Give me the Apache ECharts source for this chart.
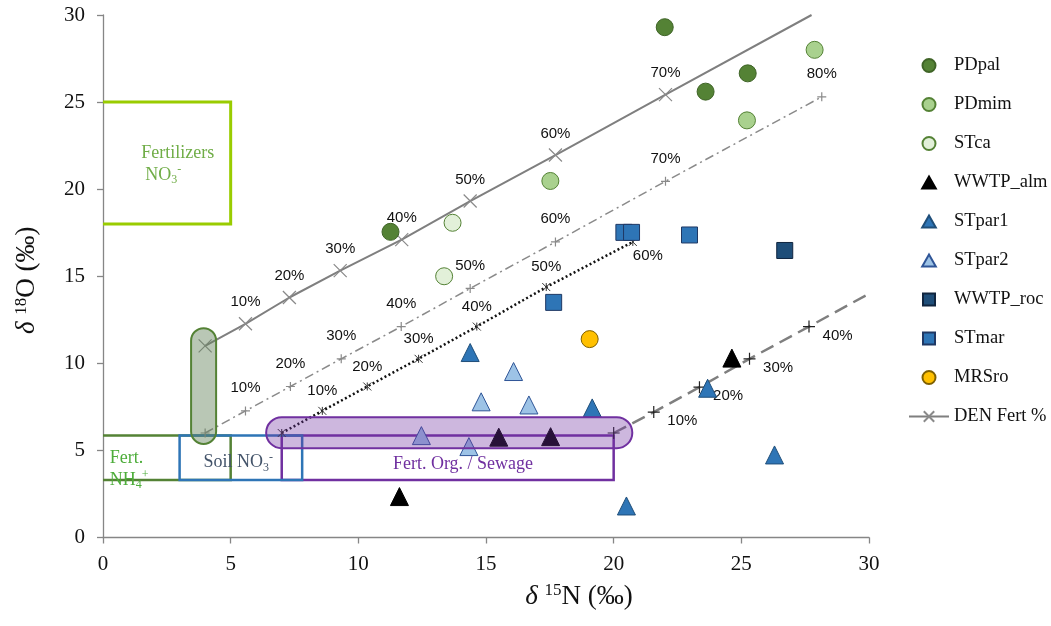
<!DOCTYPE html>
<html><head><meta charset="utf-8">
<script src="https://cdn.jsdelivr.net/npm/echarts@6/dist/echarts.min.js"></script>
<style>html,body{margin:0;padding:0;background:#fff}#c{width:1051px;height:626px}</style>
</head><body><div id="c"></div>
<script>
// ---------- data ----------
const axisTicks = [0, 5, 10, 15, 20, 25, 30];

const PDpal    = [[22.0, 29.3], [25.25, 26.65], [23.6, 25.6], [11.26, 17.55]];
const PDmim    = [[27.87, 28.0], [25.22, 23.95], [17.52, 20.47]];
const STca     = [[13.69, 18.07], [13.36, 15.0]];
const WWTP_alm = [[11.61, 2.35], [15.5, 5.76], [17.53, 5.79], [24.63, 10.3]];
const STpar1   = [[14.38, 10.62], [19.16, 7.44], [23.68, 8.57], [26.3, 4.74], [20.5, 1.81]];
const STpar2   = [[16.08, 9.53], [14.81, 7.79], [16.68, 7.61], [12.47, 5.85], [14.33, 5.22]];
const WWTP_roc = [[26.7, 16.48]];
const STmar    = [[20.4, 17.52], [20.7, 17.52], [22.97, 17.37], [17.65, 13.5]];
const MRSro    = [[19.06, 11.39]];

// denitrification lines (null = line end without marker)
const den1    = [[4.0, 11.0], [5.58, 12.27], [7.3, 13.78], [9.29, 15.32], [11.7, 17.1], [14.38, 19.32], [17.72, 21.96], [22.03, 25.43], [27.75, 30.0]];
const den1Pct = ['', '10%', '20%', '30%', '40%', '50%', '60%', '70%', null];
const den2    = [[4.0, 6.0], [5.58, 7.27], [7.34, 8.67], [9.33, 10.26], [11.68, 12.11], [14.38, 14.3], [17.72, 16.97], [22.03, 20.45], [28.15, 25.3]];
const den2Pct = ['', '10%', '20%', '30%', '40%', '50%', '60%', '70%', '80%'];
const den3    = [[7.0, 6.0], [8.59, 7.27], [10.35, 8.67], [12.36, 10.26], [14.64, 12.11], [17.36, 14.38], [20.75, 16.97]];
const den3Pct = ['', '10%', '20%', '30%', '40%', '50%', '60%'];
const den4    = [[20.0, 6.0], [21.57, 7.2], [23.36, 8.63], [25.32, 10.26], [27.65, 12.11], [30.0, 14.0]];
const den4Pct = ['', '10%', '20%', '30%', '40%', null];

// source zones (delta15N, delta18O)
const zoneFertNO3 = [[0, 25], [5, 25], [5, 18], [0, 18]];
const zoneFertNH4 = [[0, 5.85], [5, 5.85], [5, 3.3], [0, 3.3]];
const zoneSoilNO3 = [3, 3.3, 7.8, 5.85];
const zoneFertOrg = [7, 3.3, 20, 5.85];
const pillGreen   = [3.45, 5.37, 4.43, 12.02];
const pillPurple  = [6.39, 5.13, 20.73, 6.91];

const legendNames = ['PDpal', 'PDmim', 'STca', 'WWTP_alm', 'STpar1', 'STpar2', 'WWTP_roc', 'STmar', 'MRSro', 'DEN Fert %'];

// ---------- chart ----------
const serif = '"Liberation Serif", "Times New Roman", serif';
const sans = '"Liberation Sans", Arial, sans-serif';
const chart = echarts.init(document.getElementById('c'));

const X_SYM = 'path://M0,0L10,10M10,0L0,10';
const P_SYM = 'path://M5,0L5,10M0,5L10,5';
const S_SYM = 'path://M0,0L10,10M10,0L0,10M5,0L5,10';
// legend icons padded to the 40x13 legend box so they are not stretched
const LEG_TRI = 'path://M0,0M40,13M13.2,12.4L20,0.6L26.8,12.4Z';
const LEG_SQ = 'path://M0,0M40,13M14,0.6H26V12.6H14Z';
const legendIcon = { WWTP_alm: LEG_TRI, STpar1: LEG_TRI, STpar2: LEG_TRI, WWTP_roc: LEG_SQ, STmar: LEG_SQ };

function sc(name, data, symbol, color, border, size) {
  return {
    type: 'scatter', name, data, symbol, symbolSize: size, symbolKeepAspect: true,
    itemStyle: { color, borderColor: border, borderWidth: 1, opacity: 1 },
    z: 4, animation: false
  };
}

function den(name, pts, pcts, o) {
  return {
    type: 'line', name, z: 3, animation: false,
    symbol: o.symbol, symbolSize: o.size, showAllSymbol: true,
    lineStyle: o.line,
    itemStyle: { color: o.mark, borderColor: o.mark, borderWidth: o.markW },
    label: Object.assign({ show: true, fontFamily: sans, fontSize: 15, color: '#111' }, o.label),
    emphasis: { disabled: true },
    data: pts.map((p, i) => {
      const item = { value: p };
      if (pcts[i] === null) { item.symbol = 'none'; item.label = { show: false }; }
      else if (!pcts[i]) { item.label = { show: false }; }
      else {
        item.label = { formatter: pcts[i] };
        if (o.itemLabel) Object.assign(item.label, o.itemLabel(i, pcts.length));
      }
      return item;
    })
  };
}

function boxRect(api, b) {
  const p0 = api.coord([b[0], b[3]]), p1 = api.coord([b[2], b[1]]);
  return { x: p0[0], y: p0[1], width: p1[0] - p0[0], height: p1[1] - p0[1] };
}

function zonesRender(params, api) {
  const t = (txt, at, fill, align, rich) => {
    const p = api.coord(at);
    return { type: 'text', x: p[0], y: p[1], style: {
      text: txt, fill, align: align || 'left', verticalAlign: 'middle',
      fontFamily: serif, fontSize: 18, lineHeight: 22, rich: rich || {} } };
  };
  const sub = { sub: { fontFamily: serif, fontSize: 12, lineHeight: 12, verticalAlign: 'bottom' },
                sup: { fontFamily: serif, fontSize: 12, lineHeight: 12, verticalAlign: 'top' } };
  const addSub = (r, col) => ({ sub: Object.assign({ fill: col }, r.sub), sup: Object.assign({ fill: col }, r.sup) });
  return {
    type: 'group',
    children: [
      { type: 'polyline', shape: { points: zoneFertNO3.map(p => api.coord(p)) }, style: { stroke: '#99CC00', lineWidth: 3, fill: null } },
      { type: 'polyline', shape: { points: zoneFertNH4.map(p => api.coord(p)) }, style: { stroke: '#548235', lineWidth: 2.5, fill: null } },
      { type: 'rect', shape: boxRect(api, zoneFertOrg), style: { stroke: '#7030A0', lineWidth: 2.5, fill: null } },
      { type: 'rect', shape: boxRect(api, zoneSoilNO3), style: { stroke: '#2E75B6', lineWidth: 2.5, fill: null } },
      t('Fertilizers', [1.5, 22.05], '#70AD47'),
      t('NO{sub|3}{sup|-}', [1.65, 20.8], '#70AD47', 'left', addSub(sub, '#70AD47')),
      t('Fert.', [0.26, 4.55], '#4EAD3B'),
      t('NH{sub|4}{sup|+}', [0.26, 3.3], '#4EAD3B', 'left', addSub(sub, '#4EAD3B')),
      t('Soil NO{sub|3}{sup|-}', [3.94, 4.3], '#44546A', 'left', addSub(sub, '#44546A')),
      t('Fert. Org. / Sewage', [14.1, 4.2], '#7030A0', 'center')
    ]
  };
}

function pillsRender(params, api) {
  const g = boxRect(api, pillGreen), p = boxRect(api, pillPurple);
  g.r = Math.min(g.width, g.height) / 2;
  p.r = Math.min(p.width, p.height) / 2;
  return {
    type: 'group',
    children: [
      { type: 'rect', shape: g, style: { fill: 'rgba(100,130,90,0.45)', stroke: '#548235', lineWidth: 2 } },
      { type: 'rect', shape: p, style: { fill: 'rgba(112,48,160,0.35)', stroke: '#7030A0', lineWidth: 2 } }
    ]
  };
}

const axisCommon = {
  type: 'value', min: axisTicks[0], max: axisTicks[axisTicks.length - 1], interval: axisTicks[1] - axisTicks[0],
  splitLine: { show: false },
  axisLine: { show: true, lineStyle: { color: '#868686', width: 1.3 } },
  axisTick: { show: true, length: 6, lineStyle: { color: '#868686', width: 1.3 } },
  axisLabel: { fontFamily: serif, fontSize: 21, color: '#111' },
  nameLocation: 'middle'
};
const nameRich = {
  d: { fontFamily: serif, fontSize: 27, fontStyle: 'italic', color: '#111', lineHeight: 28 },
  s: { fontFamily: serif, fontSize: 17, color: '#111', lineHeight: 17, verticalAlign: 'top' }
};

chart.setOption({
  backgroundColor: '#fff',
  animation: false,
  grid: { left: 103, right: 182, top: 15, bottom: 88.5, containLabel: false },
  xAxis: Object.assign({}, axisCommon, {
    axisLabel: Object.assign({}, axisCommon.axisLabel, { margin: 16 }),
    name: '{d|δ} {s|15}N (‰)', nameGap: 45,
    nameTextStyle: { fontFamily: serif, fontSize: 27, color: '#111', lineHeight: 28, padding: [0, 0, 0, 186], rich: nameRich }
  }),
  yAxis: Object.assign({}, axisCommon, {
    axisLabel: Object.assign({}, axisCommon.axisLabel, { margin: 18 }),
    name: '{d|δ} {s|18}O (‰)', nameGap: 62,
    nameTextStyle: { fontFamily: serif, fontSize: 27, color: '#111', lineHeight: 28, padding: [0, 8, 0, 0], rich: nameRich }
  }),
  legend: {
    data: legendNames.map(n => legendIcon[n] ? { name: n, icon: legendIcon[n] } : n),
    orient: 'vertical', left: 903, top: 51,
    itemWidth: 40, itemHeight: 13, itemGap: 20, symbolKeepAspect: true,
    textStyle: { fontFamily: serif, fontSize: 18.5, color: '#111' },
    selectedMode: false
  },
  series: [
    { type: 'custom', name: 'zones', coordinateSystem: 'cartesian2d', renderItem: zonesRender,
      data: [[0, 0]], z: 1, silent: true, clip: false, animation: false },
    den('DEN Fert %', den1, den1Pct, { symbol: X_SYM, size: 13, mark: '#8a8a8a', markW: 1.2,
      line: { color: '#7f7f7f', width: 2, type: 'solid' },
      label: { position: 'top', distance: 7 } }),
    den('den2', den2, den2Pct, { symbol: P_SYM, size: 9, mark: '#8a8a8a', markW: 1.2,
      line: { color: '#8a8a8a', width: 1.5, type: [9, 4, 2, 4] },
      label: { position: 'top', distance: 10 } }),
    den('den3', den3, den3Pct, { symbol: S_SYM, size: 8, mark: '#333', markW: 1,
      line: { color: '#111', width: 2.5, type: [2, 2.5] },
      label: { position: 'top', distance: 8 },
      itemLabel: (i, n) => i === n - 1 ? { position: 'bottom', distance: 4, offset: [15, -2] } : {} }),
    den('den4', den4, den4Pct, { symbol: P_SYM, size: 12, mark: '#222', markW: 1.2,
      line: { color: '#7f7f7f', width: 2.5, type: [14, 7] },
      label: { position: 'right', distance: 7, offset: [0, 9] } }),
    sc('PDpal', PDpal, 'circle', '#548235', '#3f6427', 17),
    sc('PDmim', PDmim, 'circle', '#A9D18E', '#548235', 17),
    sc('STca', STca, 'circle', '#E2F0D9', '#548235', 17),
    sc('WWTP_alm', WWTP_alm, 'triangle', '#000000', '#000000', 18),
    sc('STpar1', STpar1, 'triangle', '#2E75B6', '#1F4E79', 18),
    sc('STpar2', STpar2, 'triangle', '#9DC3E6', '#2F5597', 18),
    sc('WWTP_roc', WWTP_roc, 'rect', '#1F4E79', '#10253F', 16),
    sc('STmar', STmar, 'rect', '#2E75B6', '#1F3864', 16),
    sc('MRSro', MRSro, 'circle', '#FFC000', '#7F6000', 17),
    { type: 'custom', name: 'pills', coordinateSystem: 'cartesian2d', renderItem: pillsRender,
      data: [[0, 0]], z: 6, silent: true, clip: false, animation: false }
  ]
});
</script></body></html>
